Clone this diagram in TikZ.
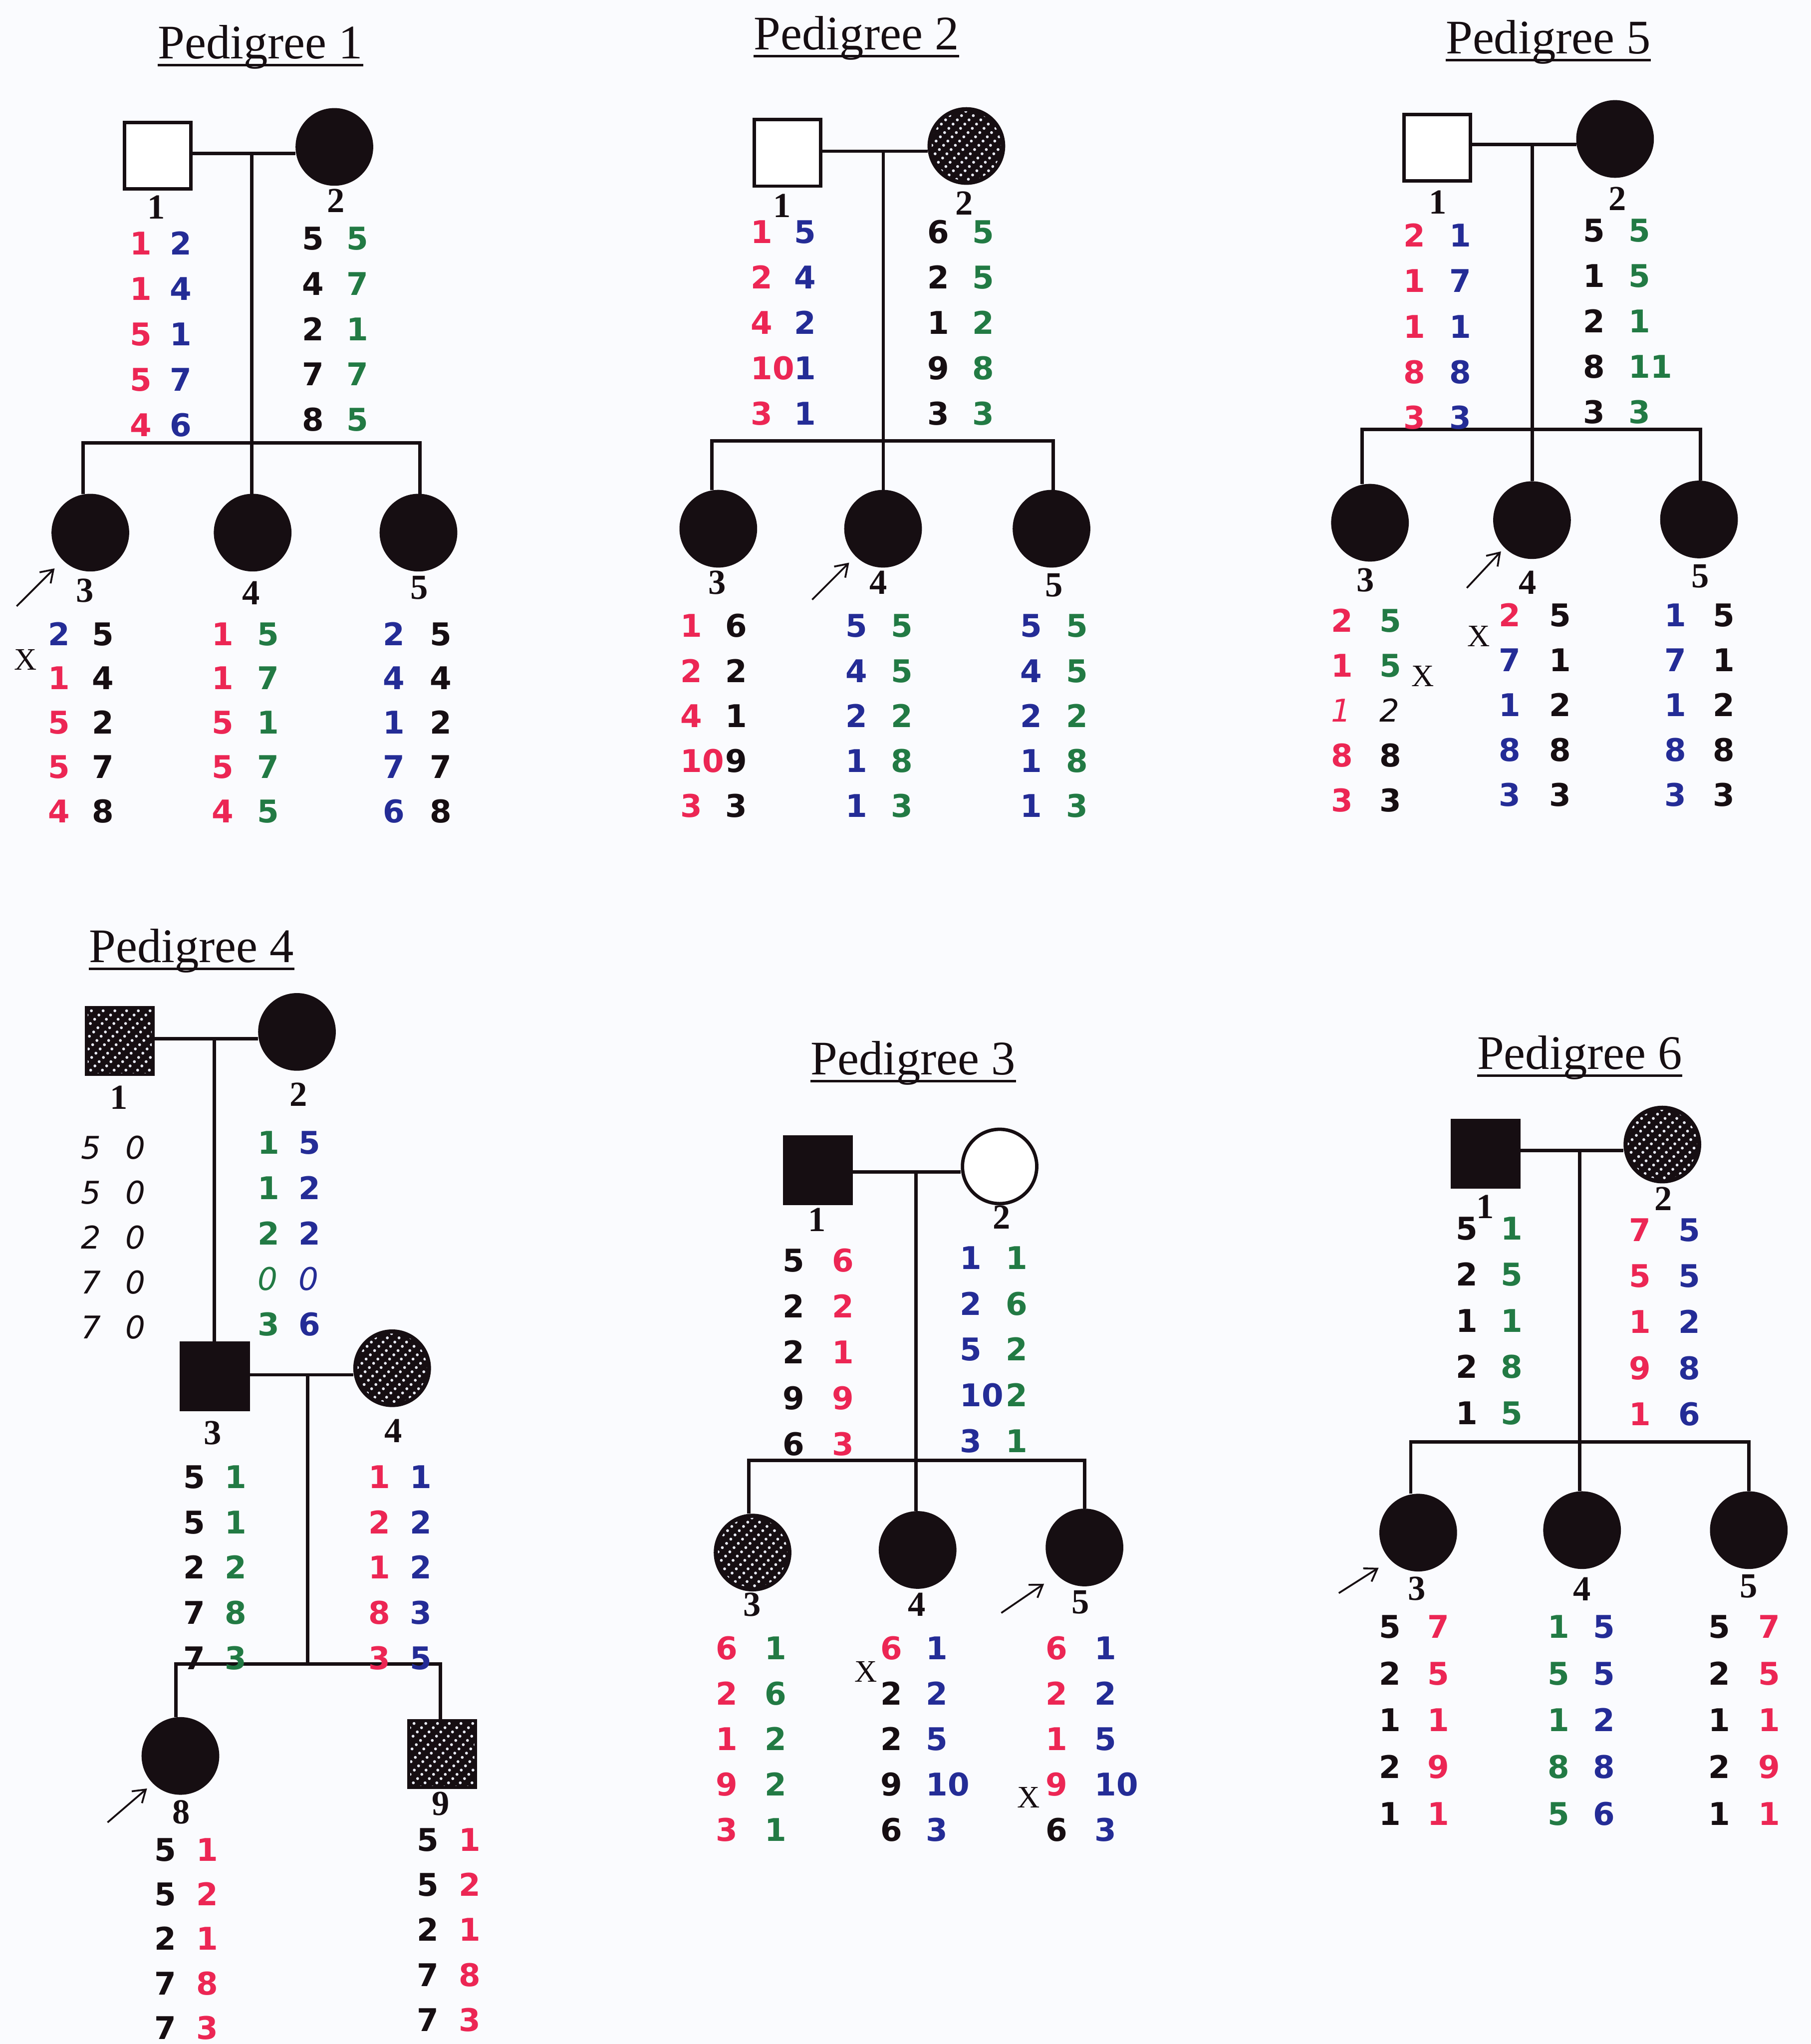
\documentclass[tikz,border=0pt]{standalone}
\usepackage{fontspec}
\newfontfamily\numfont[BoldFont={DejaVu Sans Bold},ItalicFont={DejaVu Sans Oblique}]{DejaVu Sans}
\newfontfamily\seriffont{Liberation Serif}
\usetikzlibrary{calc,arrows.meta}
\definecolor{ink}{RGB}{22,14,18}
\definecolor{rd}{RGB}{236,38,84}
\definecolor{bl}{RGB}{36,44,150}
\definecolor{gn}{RGB}{34,122,68}
\definecolor{bk}{RGB}{22,14,18}
\definecolor{bgc}{RGB}{250,251,254}
\definecolor{dotc}{RGB}{235,238,250}
\newcommand\IT[1]{{\mdseries\itshape #1}}
\tikzset{
  ln/.style={draw=ink, line width=2.6pt},
  ul/.style={draw=ink, line width=1.8pt},
  male/.style={rectangle, draw=ink, line width=2.6pt, minimum size=51pt, inner sep=0pt},
  female/.style={circle, draw=ink, line width=2.6pt, minimum size=57pt, inner sep=0pt},
  aff/.style={fill=ink},
  unaff/.style={fill=white},
  num/.style={font=\numfont\bfseries\fontsize{24}{24}\selectfont, inner sep=0pt, anchor=base west},
  lab/.style={font=\seriffont\bfseries\fontsize{27}{27}\selectfont, inner sep=0pt, anchor=center, text=ink},
  xm/.style={font=\seriffont\fontsize{24}{24}\selectfont, inner sep=0pt, anchor=center, text=ink},
  ttl/.style={font=\seriffont\fontsize{37}{37}\selectfont, inner sep=0pt, anchor=base, text=ink},
  proband/.style={draw=ink, line width=1.4pt, -{Straight Barb[length=9pt,width=12pt]}},
  hatchln/.style={draw=dotc, line width=2.2pt, line cap=round, dash pattern=on 0pt off 4.6pt},
}
% genotype block: #1 prefix, #2 x col1, #3 x col2, #4 y first row centre, #5 row step, #6 colour A, #7 colour B, #8 list
\newcommand\gb[8]{%
  \foreach \gA/\gB [count=\gI] in {#8}{%
    \node[num,text=#6] (#1a\gI) at ({#2-8.4},{#4+9+(\gI-1)*#5}) {\gA};
    \node[num,text=#7] (#1b\gI) at ({#3-8.4},{#4+9+(\gI-1)*#5}) {\gB};
  }}
\newcommand\hatchC[1]{%
  \begin{scope}
    \clip (#1.center) circle (26.6pt);
    \foreach \k in {-72,-63,...,72}{\draw[hatchln] ($(#1.center)+(\k-45,45)$) -- ($(#1.center)+(\k+45,-45)$);}
  \end{scope}}
\newcommand\hatchS[1]{%
  \begin{scope}
    \clip ($(#1.south west)+(2.2,-2.2)$) rectangle ($(#1.north east)+(-2.2,2.2)$);
    \foreach \k in {-72,-63,...,72}{\draw[hatchln] ($(#1.center)+(\k-45,45)$) -- ($(#1.center)+(\k+45,-45)$);}
  \end{scope}}
\begin{document}
\begin{tikzpicture}[x=1pt,y=-1pt]
\fill[bgc] (0,0) rectangle (1389,1568);
\useasboundingbox (0,0) rectangle (1389,1568);

%================ Pedigree 1
\node[ttl] (t1) at (199.7,45) {Pedigree 1};
\draw[ul] ([yshift=-5pt]t1.base west) -- ([yshift=-5pt]t1.base east);
\node[male,unaff] (p1i1) at (121,119.5) {};
\node[female,aff] (p1i2) at (256.5,112.7) {};
\node[female,aff] (p1c3) at (69.3,408.6) {};
\node[female,aff] (p1c4) at (193.8,408.6) {};
\node[female,aff] (p1c5) at (321,408.6) {};
\coordinate (p1m) at (193,117.7);
\coordinate (p1s) at (193,339.6);
\coordinate (p1L) at (63.8,339.6);
\coordinate (p1R) at (322,339.6);
\draw[ln] (p1i1.east |- p1m) -- (p1i2.west |- p1m);
\draw[ln] (p1m) -- (p1s);
\draw[ln] (p1L |- p1c3.north) -- (p1L) -- (p1R) -- (p1R |- p1c5.north);
\draw[ln] (p1s) -- (p1s |- p1c4.north);
\node[lab] (p1l1) at (120,159) {1};
\node[lab] (p1l2) at (257.7,154) {2};
\node[lab] (p1l3) at (65,453) {3};
\node[lab] (p1l4) at (192.7,455) {4};
\node[lab] (p1l5) at (321.5,451) {5};
\gb{p1g1}{108}{138.5}{186.5}{34.8}{rd}{bl}{1/2,1/4,5/1,5/7,4/6}
\gb{p1g2}{240}{274}{182.5}{34.8}{bk}{gn}{5/5,4/7,2/1,7/7,8/5}
\gb{p1g3}{45.3}{79}{486}{34}{rd}{bk}{{\color{bl}2}/5,1/4,5/2,5/7,4/8}
\gb{p1g4}{170.6}{205.5}{486}{34}{rd}{gn}{1/5,1/7,5/1,5/7,4/5}
\gb{p1g5}{302}{338}{486}{34}{bl}{bk}{2/5,4/4,1/2,7/7,6/8}
\node[xm] (p1x3) at (19.7,506) {X};
\coordinate (p1a) at (12.8,465);
\draw[proband, shorten >=9pt] (p1a) -- (p1c3.south west);

%================ Pedigree 2
\node[ttl] (t2) at (657,38) {Pedigree 2};
\draw[ul] ([yshift=-5pt]t2.base west) -- ([yshift=-5pt]t2.base east);
\node[male,unaff] (p2i1) at (604,117.3) {};
\node[female,aff] (p2i2) at (741.3,112) {};
\hatchC{p2i2}
\node[female,aff] (p2c3) at (551,405.6) {};
\node[female,aff] (p2c4) at (677.4,405.6) {};
\node[female,aff] (p2c5) at (806.6,405.6) {};
\coordinate (p2m) at (677.6,116);
\coordinate (p2s) at (677.6,338.3);
\coordinate (p2L) at (546,338.3);
\coordinate (p2R) at (808,338.3);
\draw[ln] (p2i1.east |- p2m) -- (p2i2.west |- p2m);
\draw[ln] (p2m) -- (p2s);
\draw[ln] (p2L |- p2c3.north) -- (p2L) -- (p2R) -- (p2R |- p2c5.north);
\draw[ln] (p2s) -- (p2s |- p2c4.north);
\node[lab] (p2l1) at (600.1,157.9) {1};
\node[lab] (p2l2) at (739.8,155.8) {2};
\node[lab] (p2l3) at (550,447) {3};
\node[lab] (p2l4) at (673.9,447) {4};
\node[lab] (p2l5) at (808.5,449) {5};
\gb{p2g1}{584.2}{617.6}{177.6}{34.85}{rd}{bl}{1/5,2/4,4/2,10/1,3/1}
\gb{p2g2}{719.7}{754}{177.6}{34.85}{bk}{gn}{6/5,2/5,1/2,9/8,3/3}
\gb{p2g3}{530.3}{564.8}{479.8}{34.5}{rd}{bk}{1/6,2/2,4/1,10/9,3/3}
\gb{p2g4}{656.9}{691.8}{479.8}{34.5}{bl}{gn}{5/5,4/5,2/2,1/8,1/3}
\gb{p2g5}{791}{826}{479.8}{34.5}{bl}{gn}{5/5,4/5,2/2,1/8,1/3}
\coordinate (p2a) at (623,460);
\draw[proband, shorten >=7pt] (p2a) -- (p2c4.south west);

%================ Pedigree 5
\node[ttl] (t5) at (1187.7,41) {Pedigree 5};
\draw[ul] ([yshift=-5pt]t5.base west) -- ([yshift=-5pt]t5.base east);
\node[male,unaff] (p5i1) at (1102.4,113.4) {};
\node[female,aff] (p5i2) at (1238.9,106.6) {};
\node[female,aff] (p5c3) at (1050.9,401) {};
\node[female,aff] (p5c4) at (1175.2,399) {};
\node[female,aff] (p5c5) at (1303.3,398.5) {};
\coordinate (p5m) at (1175.5,110.7);
\coordinate (p5s) at (1175.5,329.3);
\coordinate (p5L) at (1044.9,329.3);
\coordinate (p5R) at (1304.3,329.3);
\draw[ln] (p5i1.east |- p5m) -- (p5i2.west |- p5m);
\draw[ln] (p5m) -- (p5s);
\draw[ln] (p5L |- p5c3.north) -- (p5L) -- (p5R) -- (p5R |- p5c5.north);
\draw[ln] (p5s) -- (p5s |- p5c4.north);
\node[lab] (p5l1) at (1102.9,155) {1};
\node[lab] (p5l2) at (1240.6,152.6) {2};
\node[lab] (p5l3) at (1047.4,445) {3};
\node[lab] (p5l4) at (1171.7,447) {4};
\node[lab] (p5l5) at (1304.3,442) {5};
\gb{p5g1}{1084.7}{1120}{180.4}{34.9}{rd}{bl}{2/1,1/7,1/1,8/8,3/3}
\gb{p5g2}{1222.7}{1257.5}{176.3}{34.9}{bk}{gn}{5/5,1/5,2/1,8/11,3/3}
\gb{p5g3}{1029.2}{1066.5}{475.7}{34.5}{rd}{bk}{2/{\color{gn}5},1/{\color{gn}5},{\IT{1}}/{\IT{2}},8/8,3/3}
\gb{p5g4}{1158}{1196.6}{471.6}{34.5}{bl}{bk}{{\color{rd}2}/5,7/1,1/2,8/8,3/3}
\gb{p5g5}{1284.9}{1322.2}{471.6}{34.5}{bl}{bk}{1/5,7/1,1/2,8/8,3/3}
\node[xm] (p5x3) at (1091.4,518.8) {X};
\node[xm] (p5x4) at (1134.4,488) {X};
\coordinate (p5a) at (1125.2,451);
\draw[proband, shorten >=4pt] (p5a) -- (p5c4.south west);

%================ Pedigree 4
\node[ttl] (t4) at (146.9,738.2) {Pedigree 4};
\draw[ul] ([yshift=-5pt]t4.base west) -- ([yshift=-5pt]t4.base east);
\node[male,aff] (p4i1) at (91.8,798.7) {};
\hatchS{p4i1}
\node[female,aff] (p4i2) at (227.8,791.6) {};
\node[male,aff] (p4i3) at (164.8,1055.8) {};
\node[female,aff] (p4i4) at (300.8,1049.6) {};
\hatchC{p4i4}
\node[female,aff] (p4c8) at (138.4,1347) {};
\node[male,aff] (p4c9) at (339.3,1345.4) {};
\hatchS{p4c9}
\coordinate (p4m1) at (164.3,796.8);
\coordinate (p4m2) at (236,1054.6);
\coordinate (p4s) at (236,1276.6);
\coordinate (p4L) at (134.9,1276.6);
\coordinate (p4R) at (337.8,1276.6);
\draw[ln] (p4i1.east |- p4m1) -- (p4i2.west |- p4m1);
\draw[ln] (p4m1) -- (p4m1 |- p4i3.north);
\draw[ln] (p4i3.east |- p4m2) -- (p4i4.west |- p4m2);
\draw[ln] (p4m2) -- (p4s);
\draw[ln] (p4L |- p4c8.north) -- (p4L) -- (p4R) -- (p4R |- p4c9.north);
\node[lab] (p4l1) at (91.2,842) {1};
\node[lab] (p4l2) at (229.1,839.6) {2};
\node[lab] (p4l3) at (163.2,1099.3) {3};
\node[lab] (p4l4) at (301.8,1097.7) {4};
\node[lab] (p4l8) at (139.2,1390.1) {8};
\node[lab] (p4l9) at (338.2,1383.7) {9};
\gb{p4g1}{70.5}{104.3}{879.9}{34.5}{bk}{bk}{{\IT{5}}/{\IT{0}},{\IT{5}}/{\IT{0}},{\IT{2}}/{\IT{0}},{\IT{7}}/{\IT{0}},{\IT{7}}/{\IT{0}}}
\gb{p4g2}{205.8}{237.4}{876.2}{34.8}{gn}{bl}{1/5,1/2,2/2,{\IT{0}}/{\IT{0}},3/6}
\gb{p4g3}{149}{180.7}{1132.8}{34.7}{bk}{gn}{5/1,5/1,2/2,7/8,7/3}
\gb{p4g4}{290.9}{322.5}{1132.8}{34.7}{rd}{bl}{1/1,2/2,1/2,8/3,3/5}
\gb{p4g8}{126.6}{158.9}{1418.5}{34.2}{bk}{rd}{5/1,5/2,2/1,7/8,7/3}
\gb{p4g9}{328}{360}{1410.9}{34.6}{bk}{rd}{5/1,5/2,2/1,7/8,7/3}
\coordinate (p4a) at (82.5,1398);
\draw[proband, shorten >=6pt] (p4a) -- (p4c8.south west);

%================ Pedigree 3
\node[ttl] (t3) at (700.5,824.3) {Pedigree 3};
\draw[ul] ([yshift=-5pt]t3.base west) -- ([yshift=-5pt]t3.base east);
\node[male,aff] (p3i1) at (627.6,897.7) {};
\node[female,unaff] (p3i2) at (766.8,894.8) {};
\node[female,aff] (p3c3) at (577.3,1191) {};
\hatchC{p3c3}
\node[female,aff] (p3c4) at (703.9,1189) {};
\node[female,aff] (p3c5) at (831.9,1187.1) {};
\coordinate (p3m) at (702.7,898.9);
\coordinate (p3s) at (702.7,1120.4);
\coordinate (p3L) at (574.5,1120.4);
\coordinate (p3R) at (832.1,1120.4);
\draw[ln] (p3i1.east |- p3m) -- (p3i2.west |- p3m);
\draw[ln] (p3m) -- (p3s);
\draw[ln] (p3L |- p3c3.north) -- (p3L) -- (p3R) -- (p3R |- p3c5.north);
\draw[ln] (p3s) -- (p3s |- p3c4.north);
\node[lab] (p3l1) at (626.7,935.8) {1};
\node[lab] (p3l2) at (768.5,933.8) {2};
\node[lab] (p3l3) at (576.8,1231) {3};
\node[lab] (p3l4) at (703.4,1231) {4};
\node[lab] (p3l5) at (828.7,1229) {5};
\gb{p3g1}{608.6}{646.5}{966.6}{35.2}{bk}{rd}{5/6,2/2,2/1,9/9,6/3}
\gb{p3g2}{744.7}{779.9}{964.5}{35.2}{bl}{gn}{1/1,2/6,5/2,10/2,3/1}
\gb{p3g3}{557.5}{595}{1263.9}{34.9}{rd}{gn}{6/1,2/6,1/2,9/2,3/1}
\gb{p3g4}{683.5}{718.6}{1263.9}{34.9}{bk}{bl}{{\color{rd}6}/1,2/2,2/5,9/10,6/3}
\gb{p3g5}{810.5}{848}{1263.9}{34.9}{rd}{bl}{6/1,2/2,1/5,9/10,{\color{bk}6}/3}
\node[xm] (p3x4) at (664.2,1282.4) {X};
\node[xm] (p3x5) at (789,1378.7) {X};
\coordinate (p3a) at (768.1,1237.3);
\draw[proband, shorten >=12pt] (p3a) -- (p3c5.south west);

%================ Pedigree 6
\node[ttl] (t6) at (1211.8,820.2) {Pedigree 6};
\draw[ul] ([yshift=-5pt]t6.base west) -- ([yshift=-5pt]t6.base east);
\node[male,aff] (p6i1) at (1139.6,885) {};
\node[female,aff] (p6i2) at (1275.2,878) {};
\hatchC{p6i2}
\node[female,aff] (p6c3) at (1087.9,1175.7) {};
\node[female,aff] (p6c4) at (1213.6,1173.8) {};
\node[female,aff] (p6c5) at (1341.5,1173.8) {};
\coordinate (p6m) at (1211.8,882.5);
\coordinate (p6s) at (1211.8,1106);
\coordinate (p6L) at (1082.2,1106);
\coordinate (p6R) at (1341.4,1106);
\draw[ln] (p6i1.east |- p6m) -- (p6i2.west |- p6m);
\draw[ln] (p6m) -- (p6s);
\draw[ln] (p6L |- p6c3.north) -- (p6L) -- (p6R) -- (p6R |- p6c5.north);
\draw[ln] (p6s) -- (p6s |- p6c4.north);
\node[lab] (p6l1) at (1139.3,925.6) {1};
\node[lab] (p6l2) at (1276.1,919.4) {2};
\node[lab] (p6l3) at (1087,1218.8) {3};
\node[lab] (p6l4) at (1213.7,1218.8) {4};
\node[lab] (p6l5) at (1341.4,1216.7) {5};
\gb{p6g1}{1124.9}{1159.5}{942}{35.4}{bk}{gn}{5/1,2/5,1/1,2/8,1/5}
\gb{p6g2}{1257.9}{1295.8}{943.2}{35.3}{rd}{bl}{7/5,5/5,1/2,9/8,1/6}
\gb{p6g3}{1065.9}{1103.3}{1247.5}{35.9}{bk}{rd}{5/7,2/5,1/1,2/9,1/1}
\gb{p6g4}{1195.5}{1230.5}{1247.5}{35.9}{gn}{bl}{1/5,5/5,1/2,8/8,5/6}
\gb{p6g5}{1318.6}{1357}{1247.5}{35.9}{bk}{rd}{5/7,2/5,1/1,2/9,1/1}
\coordinate (p6a) at (1027,1222.1);
\draw[proband, shorten >=11pt] (p6a) -- (p6c3.south west);
\end{tikzpicture}
\end{document}
